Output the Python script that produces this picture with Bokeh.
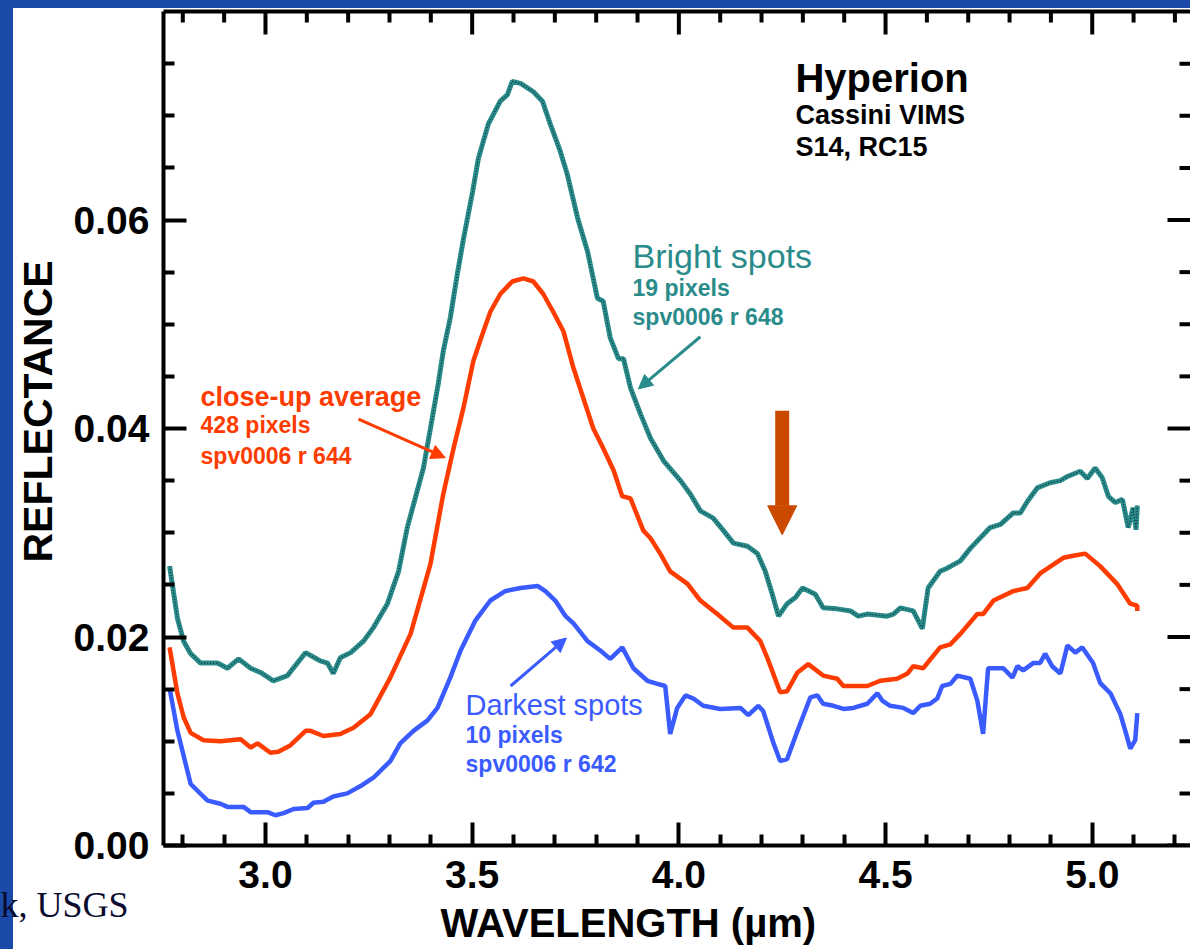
import math
from bokeh.plotting import figure
from bokeh.models import (Range1d, FixedTicker, LinearAxis, PrintfTickFormatter,
                          Label, Arrow, NormalHead, Title)
from bokeh.embed import file_html
from bokeh.resources import INLINE

# ---------------- data ----------------
bright_wl = [2.768, 2.787, 2.802, 2.819, 2.843, 2.884, 2.908, 2.935, 2.964, 2.988, 3.019, 3.053,
             3.097, 3.133, 3.150, 3.164, 3.181, 3.206, 3.237, 3.261, 3.295, 3.322, 3.343, 3.382,
             3.399, 3.418, 3.430, 3.447, 3.464, 3.479, 3.501, 3.515, 3.539, 3.568, 3.585, 3.597,
             3.617, 3.648, 3.670, 3.689, 3.713, 3.730, 3.755, 3.779, 3.803, 3.817, 3.834, 3.854,
             3.866, 3.883, 3.907, 3.931, 3.963, 4.004, 4.028, 4.052, 4.083, 4.108, 4.132, 4.166,
             4.190, 4.209, 4.226, 4.241, 4.262, 4.282, 4.299, 4.330, 4.349, 4.383, 4.415, 4.434,
             4.456, 4.504, 4.519, 4.536, 4.567, 4.589, 4.603, 4.632, 4.649, 4.681, 4.705, 4.753,
             4.778, 4.809, 4.826, 4.843, 4.867, 4.898, 4.923, 4.940, 4.971, 4.988, 5.007, 5.024,
             5.039, 5.056, 5.073, 5.087, 5.099, 5.106, 5.109]
bright_refl = [0.0268, 0.0218, 0.0196, 0.0184, 0.0175, 0.0175, 0.0170, 0.0179, 0.0170, 0.0166, 0.0158, 0.0163,
               0.0185, 0.0177, 0.0175, 0.0165, 0.0180, 0.0185, 0.0196, 0.0209, 0.0232, 0.0263, 0.0305, 0.0362,
               0.0400, 0.0443, 0.0474, 0.0506, 0.0548, 0.0582, 0.0627, 0.0659, 0.0692, 0.0714, 0.0720, 0.0733,
               0.0731, 0.0723, 0.0714, 0.0692, 0.0666, 0.0644, 0.0602, 0.0570, 0.0525, 0.0522, 0.0487, 0.0467,
               0.0467, 0.0439, 0.0414, 0.0391, 0.0369, 0.0350, 0.0337, 0.0321, 0.0314, 0.0302, 0.0290, 0.0287,
               0.0280, 0.0263, 0.0241, 0.0220, 0.0232, 0.0238, 0.0247, 0.0241, 0.0228, 0.0227, 0.0225, 0.0220,
               0.0222, 0.0220, 0.0222, 0.0228, 0.0225, 0.0208, 0.0247, 0.0263, 0.0266, 0.0273, 0.0285, 0.0305,
               0.0308, 0.0319, 0.0319, 0.0330, 0.0343, 0.0348, 0.0350, 0.0354, 0.0359, 0.0352, 0.0362, 0.0353,
               0.0335, 0.0329, 0.0332, 0.0305, 0.0324, 0.0303, 0.0326]

avg_wl = [2.768, 2.787, 2.802, 2.819, 2.850, 2.891, 2.940, 2.964, 2.981, 3.012, 3.031, 3.060,
          3.097, 3.109, 3.140, 3.181, 3.213, 3.254, 3.302, 3.351, 3.399, 3.430, 3.455, 3.479,
          3.503, 3.527, 3.544, 3.568, 3.597, 3.624, 3.648, 3.672, 3.696, 3.721, 3.745, 3.769,
          3.793, 3.817, 3.842, 3.863, 3.883, 3.914, 3.931, 3.955, 3.979, 4.021, 4.052, 4.093,
          4.132, 4.166, 4.197, 4.214, 4.245, 4.262, 4.287, 4.313, 4.349, 4.383, 4.398, 4.439,
          4.456, 4.487, 4.528, 4.553, 4.567, 4.591, 4.632, 4.657, 4.681, 4.722, 4.736, 4.761,
          4.809, 4.843, 4.874, 4.930, 4.954, 4.983, 5.019, 5.060, 5.092, 5.109, 5.109]
avg_refl = [0.0190, 0.0146, 0.0123, 0.0108, 0.0101, 0.0100, 0.0102, 0.0094, 0.0098, 0.0089, 0.0090, 0.0096,
            0.0110, 0.0110, 0.0105, 0.0107, 0.0113, 0.0126, 0.0161, 0.0203, 0.0270, 0.0337, 0.0381, 0.0420,
            0.0465, 0.0493, 0.0512, 0.0529, 0.0541, 0.0544, 0.0541, 0.0529, 0.0512, 0.0493, 0.0458, 0.0429,
            0.0400, 0.0381, 0.0360, 0.0335, 0.0333, 0.0302, 0.0295, 0.0280, 0.0263, 0.0251, 0.0235, 0.0222,
            0.0209, 0.0209, 0.0196, 0.0180, 0.0147, 0.0148, 0.0166, 0.0174, 0.0163, 0.0160, 0.0153, 0.0153,
            0.0153, 0.0158, 0.0160, 0.0165, 0.0172, 0.0170, 0.0190, 0.0193, 0.0203, 0.0222, 0.0222, 0.0235,
            0.0244, 0.0247, 0.0261, 0.0276, 0.0278, 0.0280, 0.0268, 0.0251, 0.0232, 0.0230, 0.0225]

dark_wl = [2.768, 2.787, 2.819, 2.860, 2.891, 2.908, 2.947, 2.964, 3.005, 3.024, 3.044, 3.068,
           3.102, 3.116, 3.140, 3.164, 3.198, 3.230, 3.261, 3.302, 3.326, 3.358, 3.392, 3.416,
           3.447, 3.472, 3.508, 3.544, 3.580, 3.617, 3.658, 3.677, 3.701, 3.726, 3.745, 3.779,
           3.810, 3.834, 3.863, 3.890, 3.924, 3.948, 3.967, 3.979, 3.996, 4.016, 4.035, 4.059,
           4.100, 4.149, 4.168, 4.192, 4.204, 4.229, 4.245, 4.262, 4.287, 4.318, 4.335, 4.349,
           4.374, 4.398, 4.422, 4.456, 4.480, 4.492, 4.511, 4.543, 4.567, 4.584, 4.608, 4.625,
           4.637, 4.657, 4.674, 4.705, 4.722, 4.736, 4.748, 4.785, 4.807, 4.819, 4.833, 4.857,
           4.874, 4.886, 4.903, 4.923, 4.940, 4.959, 4.976, 5.002, 5.019, 5.044, 5.068, 5.080,
           5.092, 5.104, 5.109]
dark_refl = [0.0151, 0.0110, 0.0059, 0.0043, 0.0040, 0.0037, 0.0037, 0.0032, 0.0032, 0.0029, 0.0031, 0.0035,
             0.0036, 0.0041, 0.0042, 0.0047, 0.0050, 0.0057, 0.0065, 0.0081, 0.0098, 0.0110, 0.0120, 0.0132,
             0.0161, 0.0187, 0.0216, 0.0235, 0.0244, 0.0247, 0.0249, 0.0244, 0.0235, 0.0220, 0.0213, 0.0196,
             0.0187, 0.0179, 0.0190, 0.0170, 0.0158, 0.0155, 0.0153, 0.0107, 0.0132, 0.0144, 0.0141, 0.0134,
             0.0131, 0.0132, 0.0125, 0.0134, 0.0129, 0.0098, 0.0081, 0.0083, 0.0110, 0.0142, 0.0144, 0.0136,
             0.0134, 0.0131, 0.0132, 0.0136, 0.0146, 0.0139, 0.0134, 0.0132, 0.0127, 0.0134, 0.0136, 0.0141,
             0.0153, 0.0155, 0.0163, 0.0160, 0.0139, 0.0107, 0.0170, 0.0170, 0.0161, 0.0172, 0.0168, 0.0175,
             0.0175, 0.0184, 0.0172, 0.0165, 0.0192, 0.0185, 0.0190, 0.0175, 0.0156, 0.0146, 0.0126, 0.0110,
             0.0093, 0.0101, 0.0127]

x_major = [3.0, 3.5, 4.0, 4.5, 5.0]
x_minor = [2.8, 2.9, 3.1, 3.2, 3.3, 3.4, 3.6, 3.7, 3.8, 3.9, 4.1, 4.2, 4.3, 4.4, 4.6, 4.7, 4.8, 4.9, 5.1, 5.2]
y_major = [0.00, 0.02, 0.04, 0.06]
y_minor = [0.005, 0.010, 0.015, 0.025, 0.030, 0.035, 0.045, 0.050, 0.055, 0.065, 0.070, 0.075]

X_START, X_END = 2.7533, 5.2377
Y_START, Y_END = 0.0, 0.08

TEAL = "#2a8b8b"
RED = "#ff3c00"
BLUE = "#3a5bff"
BORDER = "#1b49aa"
FONT = "Liberation Sans"

p = figure(width=1190, height=949, output_backend="svg", toolbar_location=None,
           x_range=Range1d(X_START, X_END), y_range=Range1d(Y_START, Y_END),
           min_border_left=163, min_border_right=0, min_border_top=11, min_border_bottom=104)
p.background_fill_color = "white"
p.border_fill_color = None
p.outline_line_color = None
p.grid.visible = False
# slide frame: blue strips along the left and top edges
p.styles = {"background-image": (f"linear-gradient(to right, {BORDER} 0px, {BORDER} 13px, rgba(0,0,0,0) 13px), "
                                  f"linear-gradient(to bottom, {BORDER} 0px, {BORDER} 8px, #ffffff 8px)")}

def style_axis(ax, ticks, minor, fmt):
    ax.ticker = FixedTicker(ticks=ticks, minor_ticks=minor)
    ax.axis_line_width = 4
    ax.axis_line_color = "black"
    ax.major_tick_line_width = 4
    ax.minor_tick_line_width = 4
    ax.major_tick_in = 23
    ax.major_tick_out = 0
    ax.minor_tick_in = 11
    ax.minor_tick_out = 0
    ax.formatter = PrintfTickFormatter(format=fmt)
    ax.major_label_text_font = FONT
    ax.major_label_text_font_style = "bold"
    ax.major_label_text_font_size = "39px"
    ax.major_label_text_color = "black"

xa = p.xaxis[0]
ya = p.yaxis[0]
style_axis(xa, x_major, x_minor, "%.1f")
style_axis(ya, y_major, y_minor, "%.2f")
xa.major_label_standoff = 15
ya.major_label_standoff = 14

# credit line at the lower left, cut by the slide edge
credit = Title(text="k, USGS", align="left", offset=-163, vertical_align="top",
               text_font="Liberation Serif", text_font_style="normal", text_font_size="36px",
               text_color="#0b0b2e")
credit.standoff = -12
p.add_layout(credit, "below")

# x-axis title, set left of centre as on the slide
x_title = Title(text="WAVELENGTH (µm)", align="left", offset=277, vertical_align="top",
                text_font=FONT, text_font_style="bold", text_font_size="40px", text_color="black")
x_title.standoff = -40
p.add_layout(x_title, "below")

# y-axis title, a little above centre as on the slide
y_title = Title(text="REFLECTANCE", align="left", offset=283, vertical_align="bottom",
                text_font=FONT, text_font_style="bold", text_font_size="41px", text_color="black")
y_title.standoff = 20
p.add_layout(y_title, "left")

# top frame line (no ticks / labels of its own)
top_ax = LinearAxis(ticker=FixedTicker(ticks=[]), axis_line_width=4, axis_line_color="black",
                    major_tick_in=0, major_tick_out=0, minor_tick_in=0, minor_tick_out=0)
p.add_layout(top_ax, "above")

# inward tick marks on the top and right edges
p.ray(x=x_major, y=[Y_END] * len(x_major), length=23, length_units="screen",
      angle=-math.pi / 2, line_color="black", line_width=4)
p.ray(x=x_minor, y=[Y_END] * len(x_minor), length=11, length_units="screen",
      angle=-math.pi / 2, line_color="black", line_width=4)
p.ray(x=[X_END] * len(y_major), y=y_major, length=23, length_units="screen",
      angle=math.pi, line_color="black", line_width=4)
p.ray(x=[X_END] * len(y_minor), y=y_minor, length=11, length_units="screen",
      angle=math.pi, line_color="black", line_width=4)

# curves
p.line(bright_wl, bright_refl, line_color=TEAL, line_width=5)
p.line(bright_wl, bright_refl, line_color="black", line_width=1.2, line_dash="1 2", line_alpha=0.7)
p.line(avg_wl, avg_refl, line_color=RED, line_width=4.5)
p.line(dark_wl, dark_refl, line_color=BLUE, line_width=4.5)

def lab(x, y, text, size, color="black", bold=True):
    p.add_layout(Label(x=x, y=y, text=text, text_font=FONT, text_font_size=size,
                       text_font_style="bold" if bold else "normal", text_color=color,
                       text_baseline="alphabetic", text_align="left"))

lab(4.282, 0.0736, "Hyperion", "40px")
lab(4.282, 0.0701, "Cassini VIMS", "27px")
lab(4.282, 0.0670, "S14, RC15", "27px")

lab(3.888, 0.0565, "Bright spots", "34px", TEAL, bold=False)
lab(3.888, 0.0535, "19 pixels", "23px", TEAL)
lab(3.888, 0.0507, "spv0006 r 648", "23px", TEAL)

lab(2.843, 0.0430, "close-up average", "27px", RED)
lab(2.843, 0.0403, "428 pixels", "23px", RED)
lab(2.843, 0.0374, "spv0006 r 644", "23px", RED)

lab(3.484, 0.0135, "Darkest spots", "29px", BLUE, bold=False)
lab(3.484, 0.0106, "10 pixels", "23px", BLUE)
lab(3.484, 0.0078, "spv0006 r 642", "23px", BLUE)

def arrow(x0, y0, x1, y1, color, width, size):
    p.add_layout(Arrow(end=NormalHead(size=size, fill_color=color, line_color=color, line_width=1),
                       x_start=x0, y_start=y0, x_end=x1, y_end=y1,
                       line_color=color, line_width=width))

arrow(4.052, 0.0488, 3.902, 0.0438, TEAL, 3, 14)
arrow(3.225, 0.0409, 3.435, 0.0372, RED, 3, 14)
arrow(3.593, 0.0153, 3.728, 0.0199, BLUE, 3, 14)
arrow(4.250, 0.0417, 4.250, 0.0298, "#cc4a00", 14, 29)

open("out.html", "w").write(file_html(p, INLINE))
